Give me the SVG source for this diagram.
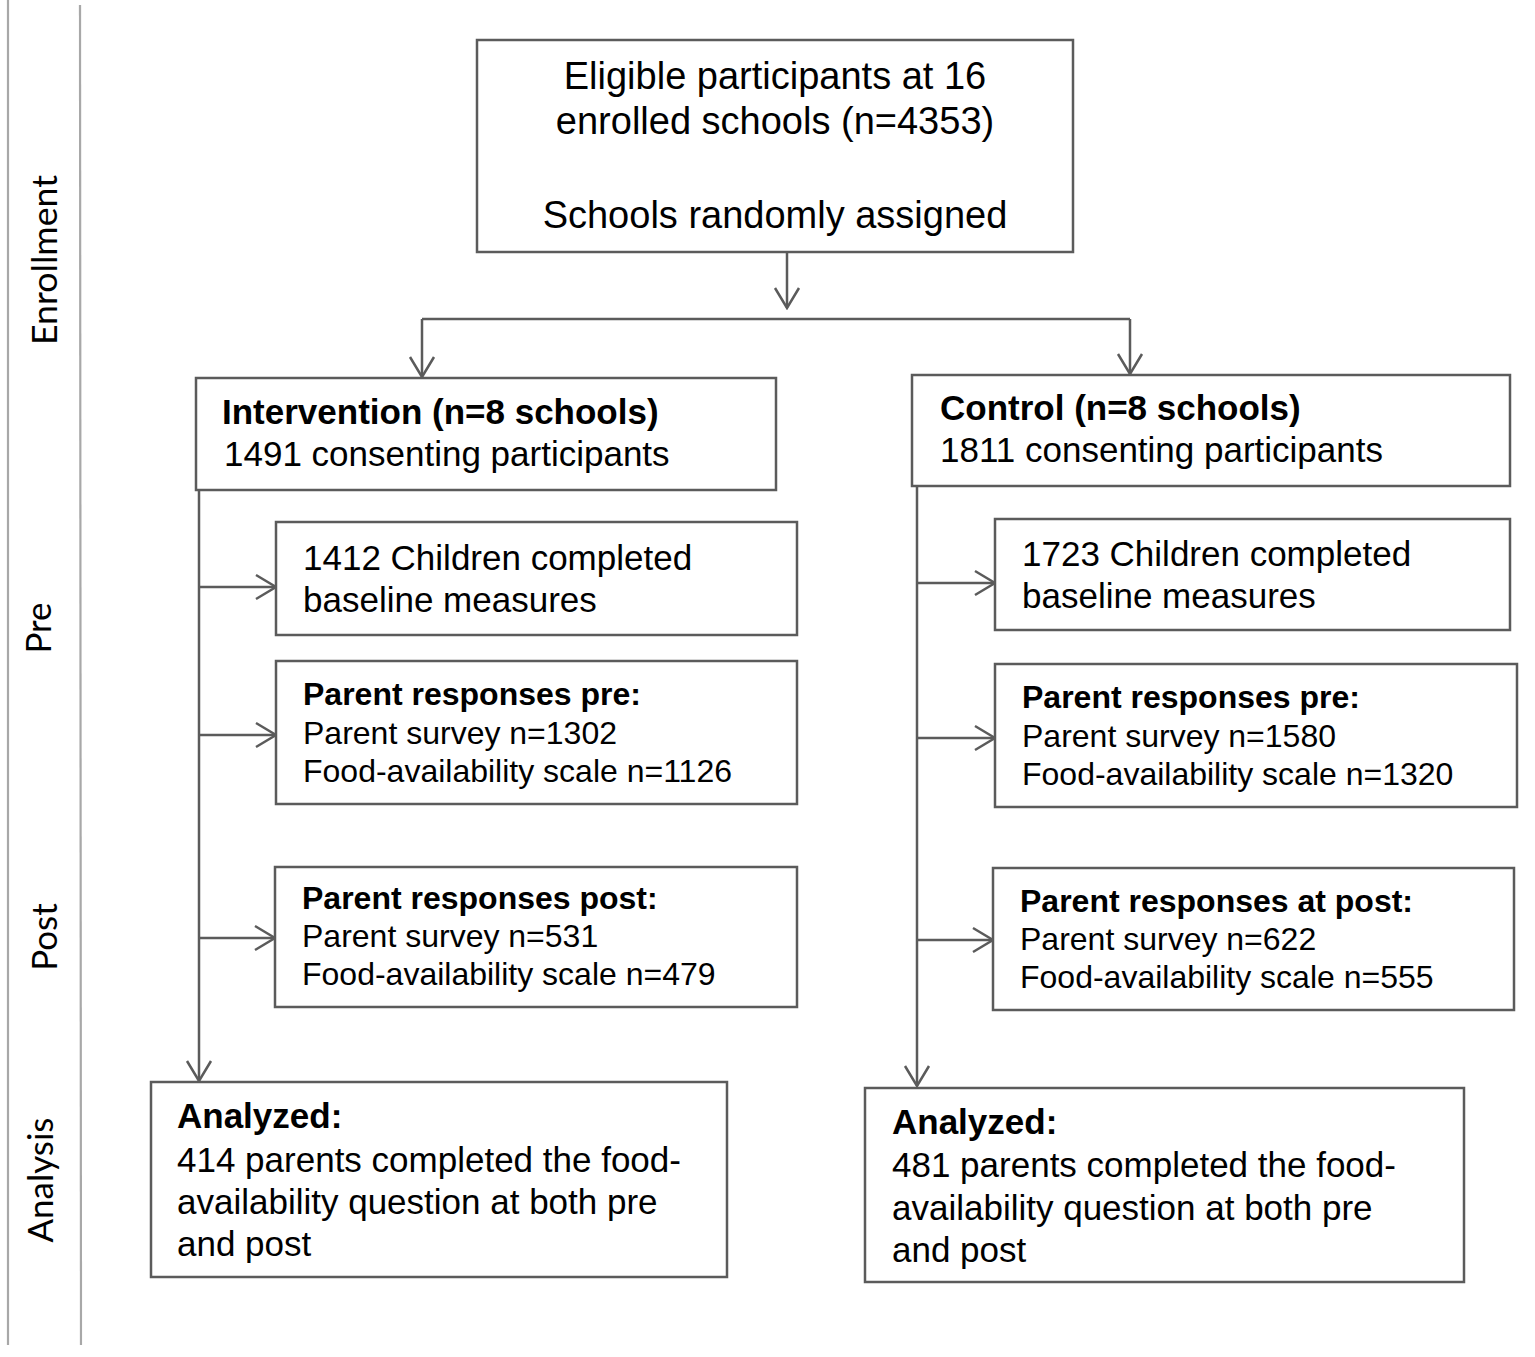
<svg xmlns="http://www.w3.org/2000/svg" width="1535" height="1357" viewBox="0 0 1535 1357">
<style>
.box{fill:#fff;stroke:#5b5b5b;stroke-width:2.5}
.t{font-family:"Liberation Sans",Arial,sans-serif;fill:#000}
.b{font-weight:bold}
.side{font-family:Lato,"Open Sans",sans-serif;font-size:35px;fill:#000}
.conn{fill:none;stroke:#5b5b5b;stroke-width:2.5}
.guide{stroke:#a8a8a8;stroke-width:2.2;fill:none}
</style>
<defs>
<marker id="arr" viewBox="0 0 24 28" markerWidth="24" markerHeight="28" refX="22" refY="14" orient="auto" markerUnits="userSpaceOnUse">
<path d="M2,2 L22,14 L2,26" fill="none" stroke="#5b5b5b" stroke-width="2.5"/>
</marker>
</defs>
<rect width="1535" height="1357" fill="#fff"/>

<g id="phase-guides">
<line class="guide" x1="8" y1="0" x2="8" y2="1345"/>
<line class="guide" x1="80" y1="5" x2="81" y2="1345"/>
<text class="side" transform="translate(57,260) rotate(-90)" text-anchor="middle" textLength="170" lengthAdjust="spacingAndGlyphs">Enrollment</text>
<text class="side" transform="translate(51,628) rotate(-90)" text-anchor="middle">Pre</text>
<text class="side" transform="translate(57,937) rotate(-90)" text-anchor="middle">Post</text>
<text class="side" transform="translate(53,1180) rotate(-90)" text-anchor="middle" textLength="125" lengthAdjust="spacingAndGlyphs">Analysis</text>
</g>

<g id="connectors">
<path class="conn" d="M787,252 V308" marker-end="url(#arr)"/>
<path class="conn" d="M422,319 H1130"/>
<path class="conn" d="M422,319 V377" marker-end="url(#arr)"/>
<path class="conn" d="M1130,319 V374" marker-end="url(#arr)"/>
<path class="conn" d="M199,491 V1081" marker-end="url(#arr)"/>
<path class="conn" d="M199,587 H276" marker-end="url(#arr)"/>
<path class="conn" d="M199,735 H276" marker-end="url(#arr)"/>
<path class="conn" d="M199,938 H275" marker-end="url(#arr)"/>
<path class="conn" d="M917,487 V1086" marker-end="url(#arr)"/>
<path class="conn" d="M917,583 H995" marker-end="url(#arr)"/>
<path class="conn" d="M917,738 H995" marker-end="url(#arr)"/>
<path class="conn" d="M917,940 H993" marker-end="url(#arr)"/>
</g>

<g id="eligible">
<rect class="box" x="477" y="40" width="596" height="212"/>
<text class="t" font-size="38" text-anchor="middle" x="775" y="89">Eligible participants at 16</text>
<text class="t" font-size="38" text-anchor="middle" x="775" y="134">enrolled schools (n=4353)</text>
<text class="t" font-size="38" text-anchor="middle" x="775" y="228">Schools randomly assigned</text>
</g>

<g id="intervention">
<rect class="box" x="196" y="378" width="580" height="112"/>
<text class="t b" font-size="35" x="222" y="424">Intervention (n=8 schools)</text>
<text class="t" font-size="35" x="224" y="466">1491 consenting participants</text>
</g>

<g id="control">
<rect class="box" x="912" y="375" width="598" height="111"/>
<text class="t b" font-size="35" x="940" y="420">Control (n=8 schools)</text>
<text class="t" font-size="35" x="940" y="462">1811 consenting participants</text>
</g>

<g id="int-baseline">
<rect class="box" x="276" y="522" width="521" height="113"/>
<text class="t" font-size="35" x="303" y="570">1412 Children completed</text>
<text class="t" font-size="35" x="303" y="612">baseline measures</text>
</g>

<g id="ctl-baseline">
<rect class="box" x="995" y="519" width="515" height="111"/>
<text class="t" font-size="35" x="1022" y="566">1723 Children completed</text>
<text class="t" font-size="35" x="1022" y="608">baseline measures</text>
</g>

<g id="int-parent-pre">
<rect class="box" x="276" y="661" width="521" height="143"/>
<text class="t b" font-size="32" x="303" y="705">Parent responses pre:</text>
<text class="t" font-size="32" x="303" y="744">Parent survey n=1302</text>
<text class="t" font-size="32" x="303" y="782">Food-availability scale n=1126</text>
</g>

<g id="ctl-parent-pre">
<rect class="box" x="995" y="664" width="522" height="143"/>
<text class="t b" font-size="32" x="1022" y="708">Parent responses pre:</text>
<text class="t" font-size="32" x="1022" y="747">Parent survey n=1580</text>
<text class="t" font-size="32" x="1022" y="785">Food-availability scale n=1320</text>
</g>

<g id="int-parent-post">
<rect class="box" x="275" y="867" width="522" height="140"/>
<text class="t b" font-size="32" x="302" y="909">Parent responses post:</text>
<text class="t" font-size="32" x="302" y="947">Parent survey n=531</text>
<text class="t" font-size="32" x="302" y="985">Food-availability scale n=479</text>
</g>

<g id="ctl-parent-post">
<rect class="box" x="993" y="868" width="521" height="142"/>
<text class="t b" font-size="32" x="1020" y="912">Parent responses at post:</text>
<text class="t" font-size="32" x="1020" y="950">Parent survey n=622</text>
<text class="t" font-size="32" x="1020" y="988">Food-availability scale n=555</text>
</g>

<g id="int-analyzed">
<rect class="box" x="151" y="1082" width="576" height="195"/>
<text class="t b" font-size="35" x="177" y="1128">Analyzed:</text>
<text class="t" font-size="35" x="177" y="1172">414 parents completed the food-</text>
<text class="t" font-size="35" x="177" y="1214">availability question at both pre</text>
<text class="t" font-size="35" x="177" y="1256">and post</text>
</g>

<g id="ctl-analyzed">
<rect class="box" x="865" y="1088" width="599" height="194"/>
<text class="t b" font-size="35" x="892" y="1134">Analyzed:</text>
<text class="t" font-size="35" x="892" y="1177">481 parents completed the food-</text>
<text class="t" font-size="35" x="892" y="1220">availability question at both pre</text>
<text class="t" font-size="35" x="892" y="1262">and post</text>
</g>
</svg>
